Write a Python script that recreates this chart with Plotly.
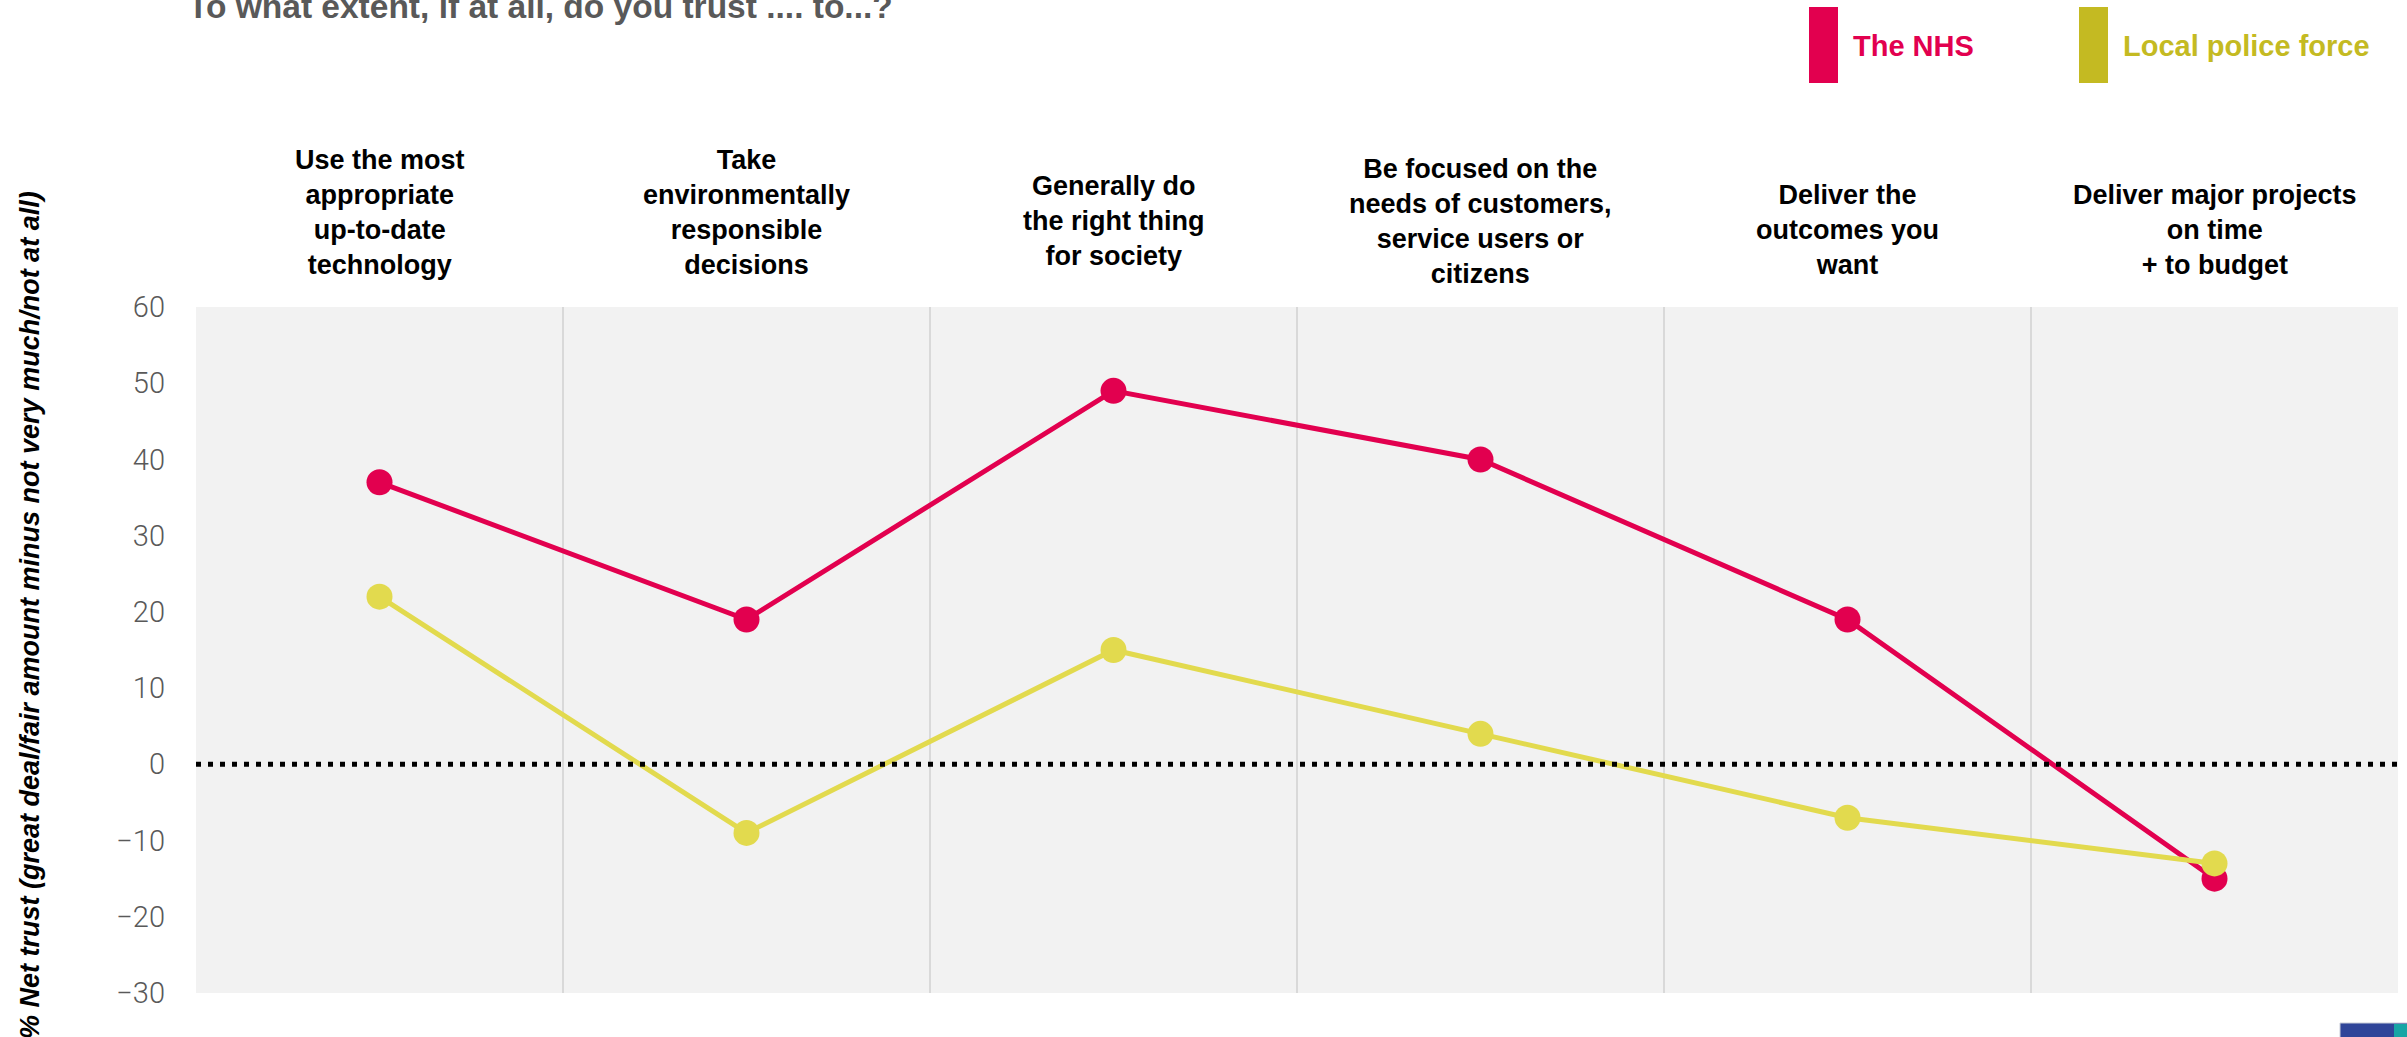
import plotly.graph_objects as go

# ---------------- data ----------------
categories = [
    "Use the most<br>appropriate<br>up-to-date<br>technology",
    "Take<br>environmentally<br>responsible<br>decisions",
    "Generally do<br>the right thing<br>for society",
    "Be focused on the<br>needs of customers,<br>service users or<br>citizens",
    "Deliver the<br>outcomes you<br>want",
    "Deliver major projects<br>on time<br>+ to budget",
]
nhs_values = [37, 19, 49, 40, 19, -15]
police_values = [22, -9, 15, 4, -7, -13]
series_names = ["The NHS", "Local police force"]
y_ticks = [-30, -20, -10, 0, 10, 20, 30, 40, 50, 60]

title_text = "To what extent, if at all, do you trust .... to...?"
y_title = "% Net trust (great deal/fair amount minus not very much/not at all)"

# ---------------- style ----------------
NHS_COLOR = "#E2004F"
POLICE_LINE = "#E2DA4E"
POLICE_LEGEND = "#C4BA22"
FONT = "Liberation Sans, Arial, sans-serif"
label_yshift = [-11, -11, -2, -20, -11, -11]   # vertical nudges of category labels (px)

fig = go.Figure()
fig.add_trace(go.Scatter(
    x=categories, y=nhs_values, name=series_names[0], mode="lines+markers",
    line=dict(color=NHS_COLOR, width=5),
    marker=dict(color=NHS_COLOR, size=26),
))
fig.add_trace(go.Scatter(
    x=categories, y=police_values, name=series_names[1], mode="lines+markers",
    line=dict(color=POLICE_LINE, width=5),
    marker=dict(color=POLICE_LINE, size=26),
))

annotations = []
# category labels above the plot
for c, dy in zip(categories, label_yshift):
    annotations.append(dict(
        x=c, xref="x", y=1.052, yref="paper", text=c, showarrow=False,
        xanchor="center", yanchor="bottom", align="center", yshift=dy,
        font=dict(family=FONT, size=27, color="#000000", weight="bold"),
    ))
# title (partially cut at top, as in the original)
annotations.append(dict(
    x=-0.0045, xref="paper", y=1.408, yref="paper", text=title_text,
    showarrow=False, xanchor="left", yanchor="bottom",
    font=dict(family=FONT, size=33.5, color="#595959", weight="bold"),
))
# y-axis title
annotations.append(dict(
    x=-0.0754, xref="paper", y=0.551, yref="paper", text=y_title,
    showarrow=False, xanchor="center", yanchor="middle", textangle=-90,
    font=dict(family=FONT, size=27, color="#000000", weight="bold", style="italic"),
))
# legend texts
annotations.append(dict(
    x=(1851 - 196) / 2202, xref="paper", y=(993 - 46) / 686, yref="paper",
    text=series_names[0], showarrow=False, xanchor="left", yanchor="middle",
    font=dict(family=FONT, size=29, color=NHS_COLOR, weight="bold"),
))
annotations.append(dict(
    x=(2121 - 196) / 2202, xref="paper", y=(993 - 46) / 686, yref="paper",
    text=series_names[1], showarrow=False, xanchor="left", yanchor="middle",
    font=dict(family=FONT, size=29, color=POLICE_LEGEND, weight="bold"),
))

def px_x(p):
    return (p - 196) / 2202

def px_y(p):
    return (993 - p) / 686

shapes = [
    # zero reference line (dotted)
    dict(type="line", xref="paper", x0=0, x1=1, yref="y", y0=0, y1=0,
         line=dict(color="#000000", width=5, dash="5px,7px"), layer="above"),
    # legend bars
    dict(type="rect", xref="paper", yref="paper",
         x0=px_x(1809), x1=px_x(1838), y0=px_y(83), y1=px_y(7),
         fillcolor=NHS_COLOR, line=dict(width=0)),
    dict(type="rect", xref="paper", yref="paper",
         x0=px_x(2079), x1=px_x(2108), y0=px_y(83), y1=px_y(7),
         fillcolor=POLICE_LEGEND, line=dict(width=0)),
    # partial logo at bottom right
    dict(type="rect", xref="paper", yref="paper",
         x0=px_x(2340), x1=px_x(2410), y0=px_y(1045), y1=px_y(1023),
         fillcolor="#2F4599", line=dict(color="#C8CCD8", width=1)),
    dict(type="rect", xref="paper", yref="paper",
         x0=px_x(2394), x1=px_x(2410), y0=px_y(1045), y1=px_y(1024),
         fillcolor="#17A5A5", line=dict(width=0)),
]

fig.update_layout(
    width=2407, height=1037,
    margin=dict(l=196, r=9, t=307, b=44),
    paper_bgcolor="#FFFFFF", plot_bgcolor="#F2F2F2",
    showlegend=False,
    font=dict(family=FONT),
    annotations=annotations,
    shapes=shapes,
    xaxis=dict(
        type="category", range=[-0.5, 5.5], tickson="boundaries",
        showticklabels=False, ticks="", showgrid=True, gridcolor="#D9D9D9",
        gridwidth=2, zeroline=False, showline=False,
    ),
    yaxis=dict(
        range=[-30, 60], tickvals=y_ticks, showgrid=False, zeroline=False,
        showline=False, ticks="", ticklabelstandoff=30,
        tickfont=dict(family="Roboto", size=29, color="#595959", weight=300),
    ),
)

fig.write_html("out.html")
